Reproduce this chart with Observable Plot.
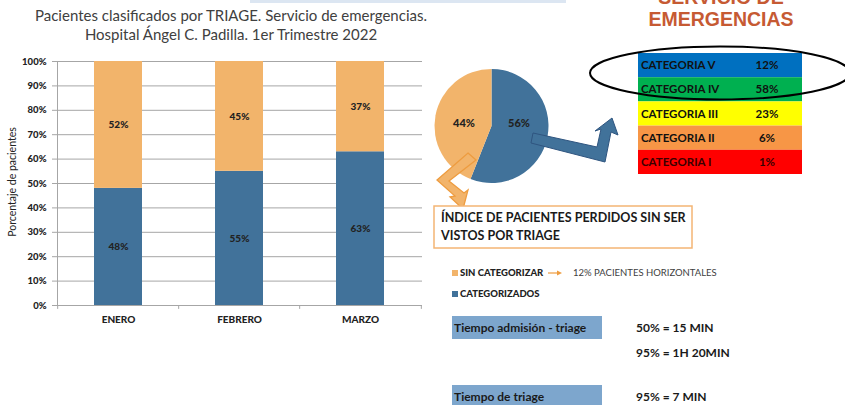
<!DOCTYPE html>
<html>
<head>
<meta charset="utf-8">
<script src="https://cdn.jsdelivr.net/npm/d3@7"></script>
<script src="https://cdn.jsdelivr.net/npm/@observablehq/plot@0.6"></script>
<style>
  html, body { margin: 0; padding: 0; background: #fff; }
  #page { position: relative; width: 845px; height: 405px; overflow: hidden; background: #fff; font-family: Lato, sans-serif; }
  #chart { position: absolute; left: 0; top: 0; }
  #overlay { position: absolute; left: 0; top: 0; }
</style>
</head>
<body>
<div id="page">
  <div id="chart"></div>
  <svg id="overlay" width="845" height="405"></svg>
</div>
<script>
// ---- data ----
const titleLines = ["Pacientes clasificados por TRIAGE. Servicio de emergencias.", "Hospital Ángel C. Padilla. 1er Trimestre 2022"];
const yAxisLabel = "Porcentaje de pacientes";
const months = ["ENERO", "FEBRERO", "MARZO"];
const seriesNames = ["CATEGORIZADOS", "SIN CATEGORIZAR"];
const categorizados = [48, 55, 63];
const sinCategorizar = [52, 45, 37];
const yTicks = [0, 10, 20, 30, 40, 50, 60, 70, 80, 90, 100];

const pieNames = ["CATEGORIZADOS", "SIN CATEGORIZAR"];
const pieValues = [56, 44];

const headerLines = ["SERVICIO DE", "EMERGENCIAS"];
const categorias = ["CATEGORIA V", "CATEGORIA IV", "CATEGORIA III", "CATEGORIA II", "CATEGORIA I"];
const categoriaValues = [12, 58, 23, 6, 1];

const boxLines = ["ÍNDICE DE PACIENTES PERDIDOS SIN SER", "VISTOS POR TRIAGE"];
const legendNote = "12% PACIENTES HORIZONTALES";
const timeLabels = ["Tiempo admisión - triage", "Tiempo de triage"];
const timeValues = [["50% = 15 MIN", "95% = 1H 20MIN"], ["95% = 7 MIN"]];

// ---- styles ----
const BLUE = "#41729A", ORANGE = "#F2B46B";
const catColors = ["#0070C0", "#00B050", "#FFFF00", "#F79646", "#FF0000"];
const GRID = "#A6A6A6";
const INK = "#222";

// ---- bar chart (Plot) ----
const rows = months.flatMap((m, i) => [
  {month: m, tipo: seriesNames[0], value: categorizados[i]},
  {month: m, tipo: seriesNames[1], value: sinCategorizar[i]}
]);
const W = 430, ML = 57, MR = 8;
const step = (W - ML - MR) / months.length;

const chart = Plot.plot({
  width: W, height: 335,
  marginLeft: ML, marginRight: MR, marginTop: 61, marginBottom: 30,
  style: {fontFamily: "Lato, sans-serif", fontSize: "9px", fontWeight: "bold", color: INK, background: "transparent"},
  x: {domain: months, paddingInner: 0.6, paddingOuter: 0.3, label: null},
  y: {domain: [0, 100], label: null},
  color: {domain: seriesNames, range: [BLUE, ORANGE]},
  marks: [
    Plot.gridY(yTicks.slice(1), {stroke: GRID, strokeOpacity: 1}),
    Plot.barY(rows, Plot.stackY({x: "month", y: "value", fill: "tipo"})),
    Plot.text(rows, Plot.stackY({x: "month", y: "value", z: "tipo", text: d => d.value + "%", fill: INK, fontWeight: 900, fontSize: 10})),
    Plot.axisY(yTicks, {tickFormat: d => d + "%", tickSize: 5, tickPadding: 6, stroke: GRID, fill: INK, fontWeight: 900, fontSize: 9.5}),
    Plot.axisX({tickSize: 0, tickPadding: 10, fill: INK, fontWeight: 900, fontSize: 10}),
    Plot.ruleY([0], {stroke: GRID}),
    Plot.frame({anchor: "left", stroke: GRID}),
    Plot.ruleX(months, {x: d => d, dx: -step / 2, y1: 0, y2: -1.6, stroke: GRID}),
    Plot.ruleX(months.slice(-1), {x: d => d, dx: step / 2, y1: 0, y2: -1.6, stroke: GRID})
  ]
});
document.getElementById("chart").append(chart);

// ---- overlay (d3) ----
const svg = d3.select("#overlay");

// light strip at top
svg.append("rect").attr("x", 250).attr("y", 0).attr("width", 316).attr("height", 3).attr("fill", "#DCE6F2");

// title
svg.selectAll("text.title").data(titleLines).join("text")
  .attr("x", 231).attr("y", (d, i) => 21 + i * 19)
  .attr("text-anchor", "middle").attr("font-family", "Lato, sans-serif")
  .attr("font-size", 15).attr("fill", "#404040").text(d => d);

// y axis label
svg.append("text").attr("transform", "translate(16,182) rotate(-90)")
  .attr("text-anchor", "middle").attr("font-family", "Lato, sans-serif")
  .attr("font-size", 10.5).attr("fill", INK).text(yAxisLabel);

// header (first line partly above the top edge, as in the source)
svg.selectAll("text.head").data(headerLines).join("text")
  .attr("x", 721).attr("y", (d, i) => 4 + i * 22)
  .attr("text-anchor", "middle").attr("font-family", "'Liberation Sans', Arial, sans-serif")
  .attr("font-weight", "bold").attr("font-size", 19.5).attr("fill", "#C65A33").text(d => d);

// pie
const pieData = d3.pie().sort(null).value(d => d.v)(pieNames.map((n, i) => ({n, v: pieValues[i]})));
const pieColor = d3.scaleOrdinal().domain(pieNames).range([BLUE, ORANGE]);
const arc = d3.arc().innerRadius(0).outerRadius(57);
const labelArc = d3.arc().innerRadius(28).outerRadius(28);
const pg = svg.append("g").attr("transform", "translate(491.5,126)");
pg.selectAll("path").data(pieData).join("path")
  .attr("d", arc).attr("fill", d => pieColor(d.data.n));
pg.selectAll("text").data(pieData).join("text")
  .attr("transform", d => `translate(${labelArc.centroid(d)[0]},-3)`)
  .attr("text-anchor", "middle").attr("dy", "0.35em")
  .attr("font-family", "Lato, sans-serif").attr("font-weight", 900).attr("font-size", 11)
  .attr("fill", INK).text(d => d.data.v + "%");

// blue bent arrow
svg.append("path")
  .attr("d", "M533,133 L597,147 L601,129 L595,131 L612,118 L618,135 L611,132 L605,162 L531,143 Z")
  .attr("fill", BLUE).attr("stroke", "#2F5580").attr("stroke-width", 1);

// orange bent arrow
svg.append("path")
  .attr("d", "M468,153 L476,160 L449,181 L464,193 L468,190 L463,209 L450,197 L455,196 L437,180 Z")
  .attr("fill", ORANGE).attr("stroke", "#EE9C3F").attr("stroke-width", 1.3);

// table
const ty = d3.scaleBand().domain(categorias).range([53, 174]);
const tg = svg.append("g");
tg.selectAll("rect").data(categorias).join("rect")
  .attr("x", 638).attr("width", 164).attr("y", d => ty(d)).attr("height", ty.bandwidth())
  .attr("fill", (d, i) => catColors[i]);
tg.selectAll("text.cn").data(categorias).join("text").attr("class", "cn")
  .attr("x", 641).attr("y", d => ty(d) + ty.bandwidth() / 2).attr("dy", "0.35em")
  .attr("font-family", "Lato, sans-serif").attr("font-weight", "bold").attr("font-size", 11.5)
  .attr("fill", (d, i) => i === 4 ? "#3a0000" : "#111").text(d => d);
tg.selectAll("text.cv").data(categorias).join("text").attr("class", "cv")
  .attr("x", 767).attr("y", d => ty(d) + ty.bandwidth() / 2).attr("dy", "0.35em")
  .attr("text-anchor", "middle")
  .attr("font-family", "Lato, sans-serif").attr("font-weight", "bold").attr("font-size", 11.5)
  .attr("fill", (d, i) => i === 4 ? "#3a0000" : "#111").text((d, i) => categoriaValues[i] + "%");

// ellipse
svg.append("ellipse").attr("cx", 720).attr("cy", 73).attr("rx", 130).attr("ry", 26.5)
  .attr("fill", "none").attr("stroke", "#000").attr("stroke-width", 2);

// boxed title
svg.append("rect").attr("x", 434).attr("y", 206).attr("width", 258).attr("height", 42)
  .attr("fill", "#fff").attr("stroke", "#F4B574").attr("stroke-width", 1.5);
svg.selectAll("text.box").data(boxLines).join("text")
  .attr("x", 441).attr("y", (d, i) => 222 + i * 18)
  .attr("font-family", "Lato, sans-serif").attr("font-weight", "bold").attr("font-size", 12.5)
  .attr("fill", "#1a1a1a").text(d => d);

// legend
const lg = svg.append("g").attr("font-family", "Lato, sans-serif").attr("font-size", 9.5);
seriesNames.slice().reverse().forEach((n, i) => {
  const y = 273 + i * 21;
  lg.append("rect").attr("x", 452).attr("y", y - 3).attr("width", 6).attr("height", 6).attr("fill", pieColor(n));
  lg.append("text").attr("x", 460).attr("y", y).attr("dy", "0.35em").attr("font-weight", 900).attr("fill", INK).text(n);
});
lg.append("line").attr("x1", 548).attr("x2", 558).attr("y1", 273).attr("y2", 273).attr("stroke", "#EE9C3F").attr("stroke-width", 1.2);
lg.append("path").attr("d", "M557,270.5 L562,273 L557,275.5 Z").attr("fill", "#EE9C3F");
lg.append("text").attr("x", 573).attr("y", 273).attr("dy", "0.35em").attr("fill", "#404040").text(legendNote);

// time boxes
const tb = svg.append("g").attr("font-family", "Lato, sans-serif").attr("font-weight", "bold").attr("font-size", 12);
const boxTops = [316, 385];
timeLabels.forEach((t, i) => {
  tb.append("rect").attr("x", 452).attr("y", boxTops[i]).attr("width", 150).attr("height", 23).attr("fill", "#7DA6CD");
  tb.append("text").attr("x", 454).attr("y", boxTops[i] + 12).attr("dy", "0.35em").attr("fill", "#1a1a1a").text(t);
  timeValues[i].forEach((v, j) => {
    tb.append("text").attr("x", 636).attr("y", boxTops[i] + 12 + j * 25).attr("dy", "0.35em").attr("fill", "#1a1a1a").text(v);
  });
});
</script>
</body>
</html>
